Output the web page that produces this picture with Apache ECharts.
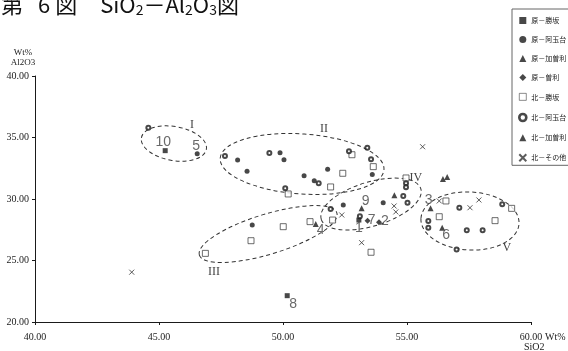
<!DOCTYPE html>
<html><head><meta charset="utf-8">
<script src="https://cdn.jsdelivr.net/npm/echarts@6/dist/echarts.min.js"></script>
<style>html,body{margin:0;padding:0;background:#fff}#c{width:568px;height:351px}</style>
</head><body><div id="c"></div>
<script>
// ---- data ----
const xTicks = [40, 45, 50, 55, 60];
const yTicks = [20, 25, 30, 35, 40];
const seriesNames = ['原－勝坂','原－阿玉台','原－加曽利','原－曽利','北－勝坂','北－阿玉台','北－加曽利','北－その他'];

const haraKatsusaka = [[53.06,28.29],[50.17,22.14],[45.25,33.93]];
const haraKatsusakaNo = ['1','8','10'];
const haraAtamadai = [[46.54,33.68],[48.17,33.17],[48.55,32.25],[49.88,33.77],[50.04,33.20],[51.80,32.41],[50.85,31.89],[51.26,31.49],[53.60,32.00],[52.43,29.51],[54.04,29.70],[48.76,27.89]];
const haraAtamadaiNo = ['5','','','','','','','','','','',''];
const haraKasori = [[55.95,29.24],[51.32,27.97],[56.42,27.67],[53.17,29.24]];
const haraKasoriNo = ['3','4','6','9'];
const haraSori = [[53.87,28.10],[53.41,28.24]];
const haraSoriNo = ['2','7'];
const kitaKatsusaka = [[50.21,30.41],[51.92,30.98],[52.41,32.09],[52.78,33.60],[53.64,32.63],[52.00,28.29],[51.09,28.16],[53.55,25.67],[56.57,29.84],[56.30,28.56],[54.96,31.71],[59.22,29.24],[58.55,28.24],[50.01,27.75],[48.71,26.61],[46.87,25.58]];
const kitaAtamadai = [[44.57,35.80],[47.66,33.50],[49.45,33.74],[51.44,31.28],[50.09,30.87],[52.66,33.88],[53.40,34.17],[53.55,33.23],[51.92,29.19],[53.10,28.60],[54.96,31.28],[54.96,30.96],[54.85,30.24],[55.02,29.70],[55.86,28.21],[55.86,27.67],[57.11,29.29],[58.84,29.57],[57.41,27.46],[58.05,27.46],[57.00,25.90]];
const kitaKasori = [[54.49,30.30],[56.45,31.62],[56.62,31.78]];
const kitaOther = [[55.63,34.25],[52.37,28.70],[54.48,29.43],[54.55,28.95],[53.17,26.45],[56.30,29.84],[57.54,29.29],[57.90,29.92],[43.90,24.05]];

// group ellipses (data units): centre, half width (SiO2), half height (Al2O3), tilt (deg, clockwise), label point
const groupNames = ['I','II','III','IV','V'];
const groupCentres = [[45.60,34.51],[50.77,32.85],[49.40,27.15],[53.55,29.59],[57.54,28.21]];
const groupHalfAxes = [[1.33,1.38],[3.31,2.44],[2.90,1.63],[2.10,1.79],[1.98,2.36]];
const groupTilt = [10, 4, -17, -17, 3];
const groupLabelAt = [[46.33,36.02],[51.65,35.69],[47.22,24.07],[55.36,31.71],[59.03,26.02]];

// ---- styling ----
const ink = '#1a1a1a';
const noOffsets = {'1':[0,8],'2':[6,-1],'3':[-2,-8],'4':[5,6],'5':[-1,-8],'6':[4,7],'7':[4,-1],'8':[6,8],'9':[4,-7],'10':[-2,-9]};

function sc(name, pts, nos, symbol, size, itemStyle) {
  return {
    type: 'scatter', name: name, symbol: symbol, symbolSize: size, itemStyle: itemStyle, z: 3,
    emphasis: {disabled: true},
    data: pts.map(function (p, i) {
      const no = nos ? nos[i] : '';
      const o = {value: p, name: no || ''};
      if (no) {
        o.label = {show: true, position: 'inside', formatter: no, offset: noOffsets[no],
          color: '#444', fontSize: 14, fontFamily: 'Liberation Sans'};
      }
      return o;
    })
  };
}

const crossPath = 'path://M0,0L10,10M10,0L0,10';

const ellipseData = groupCentres.map(function (c, i) {
  return [c[0], c[1], groupHalfAxes[i][0], groupHalfAxes[i][1], groupTilt[i], groupLabelAt[i][0], groupLabelAt[i][1]];
});

const legendData = seriesNames.map(function (n) {
  if (n === '北－阿玉台') return {name: n, itemStyle: {borderWidth: 2.6}};
  if (n === '北－勝坂') return {name: n, itemStyle: {borderWidth: 0.7}};
  return {name: n};
});

const chart = echarts.init(document.getElementById('c'), null, {renderer: 'canvas'});
chart.setOption({
  animation: false,
  backgroundColor: '#fff',
  title: [{
    text: '第{g1| }6{g2| }図{g3| }{n|SiO}{s|2}{n|－Al}{s|2}{n|O}{s|3}{n|図}',
    left: -4, top: -12,
    textStyle: {
      fontSize: 22, fontWeight: 'normal', color: '#111', fontFamily: 'Noto Sans CJK JP',
      rich: {
        g1: {width: 15, fontSize: 22}, g2: {width: 5, fontSize: 22}, g3: {width: 23, fontSize: 22},
        n: {fontSize: 22, color: '#111', fontFamily: 'Noto Sans CJK JP'},
        s: {fontSize: 14, color: '#111', fontFamily: 'Noto Sans CJK JP', verticalAlign: 'bottom', padding: [10, 0, 0, 0]}
      }
    }
  }, {
    text: 'SiO2', left: 524, top: 342, padding: 0,
    textStyle: {fontSize: 10, fontWeight: 'normal', color: '#222', fontFamily: 'Liberation Serif'}
  }],
  legend: {
    data: legendData, orient: 'vertical', left: 512, top: 9,
    padding: [8, 8, 3, 6], itemWidth: 7, itemHeight: 7, itemGap: 12,
    borderColor: '#666', borderWidth: 1, selectedMode: false,
    textStyle: {fontSize: 7, color: '#222', fontFamily: 'Noto Sans CJK JP'}
  },
  grid: {left: 35, right: 37, top: 76, bottom: 29, containLabel: false, outerBoundsMode: 'none'},
  xAxis: {
    type: 'value', min: xTicks[0], max: xTicks[xTicks.length - 1], interval: xTicks[1] - xTicks[0],
    splitLine: {show: false},
    axisLine: {lineStyle: {color: ink, width: 1}},
    axisTick: {length: 3, lineStyle: {color: ink}},
    axisLabel: {formatter: function (v) { return v.toFixed(2); }, fontFamily: 'Liberation Serif', fontSize: 10, color: '#222', margin: 10},
    name: 'Wt%', nameLocation: 'end', nameGap: 14, nameMoveOverlap: false,
    nameTextStyle: {fontFamily: 'Liberation Serif', fontSize: 10, color: '#222', verticalAlign: 'top', padding: [10, 0, 0, 0]}
  },
  yAxis: {
    type: 'value', min: yTicks[0], max: yTicks[yTicks.length - 1], interval: yTicks[1] - yTicks[0],
    splitLine: {show: false},
    axisLine: {show: true, lineStyle: {color: ink, width: 1}},
    axisTick: {show: true, length: 3, lineStyle: {color: ink}},
    axisLabel: {formatter: function (v) { return v.toFixed(2); }, fontFamily: 'Liberation Serif', fontSize: 10, color: '#222', margin: 6},
    name: 'Wt%\nAl2O3', nameLocation: 'end', nameGap: 8, nameMoveOverlap: false,
    nameTextStyle: {fontFamily: 'Liberation Serif', fontSize: 9, color: '#222', align: 'center', lineHeight: 10, padding: [0, 24, 0, 0]}
  },
  series: [
    sc(seriesNames[0], haraKatsusaka, haraKatsusakaNo, 'rect', 5, {color: ink}),
    sc(seriesNames[1], haraAtamadai, haraAtamadaiNo, 'circle', 5, {color: ink}),
    sc(seriesNames[2], haraKasori, haraKasoriNo, 'triangle', 6, {color: ink}),
    sc(seriesNames[3], haraSori, haraSoriNo, 'diamond', 6, {color: ink}),
    sc(seriesNames[4], kitaKatsusaka, null, 'rect', 6, {color: '#fff', borderColor: '#333', borderWidth: 0.9}),
    sc(seriesNames[5], kitaAtamadai, null, 'circle', 4, {color: '#fff', borderColor: ink, borderWidth: 2}),
    sc(seriesNames[6], kitaKasori, null, 'triangle', 6, {color: ink}),
    sc(seriesNames[7], kitaOther, null, crossPath, 5, {color: 'rgba(0,0,0,0)', borderColor: '#333', borderWidth: 1}),
    {
      type: 'custom', name: 'groups', z: 2, silent: true,
      data: ellipseData, encode: {x: 0, y: 1},
      renderItem: function (params, api) {
        const c = api.coord([api.value(0), api.value(1)]);
        const s = api.size([api.value(2), api.value(3)]);
        const l = api.coord([api.value(5), api.value(6)]);
        return {
          type: 'group',
          children: [
            {type: 'ellipse', x: c[0], y: c[1], rotation: -api.value(4) * Math.PI / 180,
              shape: {cx: 0, cy: 0, rx: s[0], ry: s[1]},
              style: {fill: null, stroke: '#333', lineWidth: 1, lineDash: [4, 3]}},
            {type: 'text', x: l[0], y: l[1],
              style: {text: groupNames[params.dataIndex], fill: '#444', fontSize: 12, fontFamily: 'Liberation Serif', align: 'center', verticalAlign: 'middle'}}
          ]
        };
      }
    }
  ]
});
</script>
</body></html>
